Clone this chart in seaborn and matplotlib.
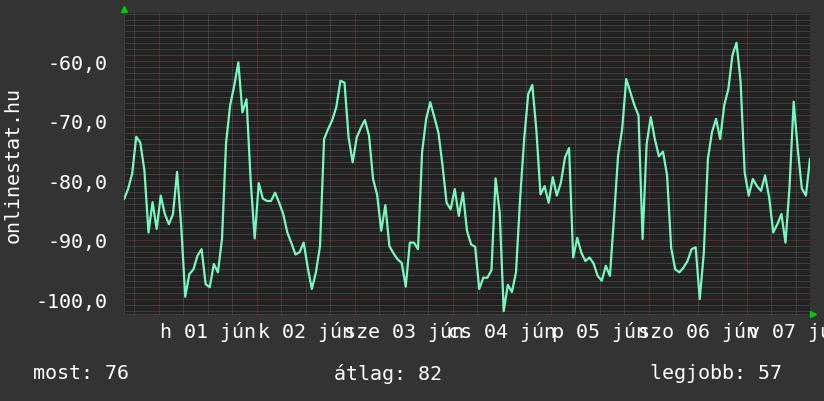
import numpy as np
import pandas as pd
import matplotlib
matplotlib.use("Agg")
import matplotlib.pyplot as plt
import matplotlib.dates as mdates
import seaborn as sns

# ---- data (hourly samples, starting 2015-05-31 15:30) ----
start_time = "2015-05-31 15:30"
block1 = [-83.2, -81.5, -78.9, -72.7, -73.7, -78.4, -88.8, -83.7, -88.2, -82.6, -85.7, -87.4,
          -85.7, -78.6, -87.6, -99.6, -95.8, -95.0, -92.7, -91.6, -97.5, -98.0, -94.1, -95.5]
block2 = [-89.9, -73.7, -67.4, -64.1, -60.2, -68.6, -66.4, -79.8, -89.8, -80.5, -83.1, -83.5,
          -83.5, -82.1, -83.8, -85.7, -88.8, -90.6, -92.5, -92.1, -90.5, -94.7, -98.3, -95.5]
block3 = [-91.1, -73.1, -71.4, -69.9, -67.7, -63.3, -63.6, -72.8, -77.0, -72.8, -71.2, -69.9,
          -72.5, -79.8, -82.5, -88.5, -84.2, -91.1, -92.3, -93.3, -93.9, -97.9, -90.5, -90.5]
block4 = [-91.6, -75.3, -69.7, -66.9, -69.4, -72.0, -77.5, -83.8, -84.9, -81.5, -86.0, -82.1,
          -88.5, -90.8, -91.2, -98.3, -96.4, -96.4, -95.1, -79.7, -85.4, -102.0, -97.6, -98.8]
block5 = [-95.5, -83.2, -73.1, -65.5, -64.0, -71.7, -82.4, -81.0, -83.8, -79.5, -82.6, -80.4,
          -76.2, -74.6, -93.0, -89.7, -92.2, -93.6, -93.0, -94.0, -96.1, -96.9, -94.4, -96.1]
block6 = [-86.3, -75.9, -71.4, -63.0, -65.2, -67.4, -69.1, -89.9, -73.9, -69.4, -73.1, -76.0,
          -75.2, -79.2, -91.4, -95.0, -95.5, -94.7, -93.6, -91.6, -91.3, -100.0, -92.2, -76.4]
block7 = [-71.9, -69.7, -73.1, -67.4, -64.7, -59.0, -56.9, -63.4, -78.7, -82.6, -79.8, -81.0,
          -81.8, -79.2, -82.9, -88.8, -87.4, -85.7, -90.5, -81.0, -66.8, -74.8, -81.4, -82.6,
          -76.4]

day_labels = ["h 01 jún", "k 02 jún", "sze 03 jún", "cs 04 jún", "p 05 jún", "szo 06 jún", "v 07 jún"]
label_days = ["2015-06-01", "2015-06-02", "2015-06-03", "2015-06-04", "2015-06-05", "2015-06-06", "2015-06-07"]
ytick_vals = [-100, -90, -80, -70, -60]
ytick_labels = ["-100,0", "-90,0", "-80,0", "-70,0", "-60,0"]
y_title = "onlinestat.hu"
summary = ["most: 76", "átlag: 82", "legjobb: 57"]

values = block1 + block2 + block3 + block4 + block5 + block6 + block7
times = pd.date_range(start_time, periods=len(values), freq="h")
df = pd.DataFrame({"time": times, "value": values})

# ---- style ----
BG = "#333333"
CANVAS = "#222222"
FG = "#ffffff"
MINOR = "#585858"
MAJOR = "#7f3838"
LINE = "#7af7be"

sns.set_theme(style="dark")
plt.rcParams["font.family"] = ["DejaVu Sans Mono", "DejaVu Sans"]
FS = 14.4

W, H = 824, 402
fig = plt.figure(figsize=(W / 100, H / 100), dpi=100, facecolor=BG)
ax = fig.add_axes([124 / W, 87 / H, 686 / W, 301 / H])
ax.set_facecolor(CANVAS)

t0 = times[0]
t1 = t0 + pd.Timedelta(hours=168)

# grid (drawn manually, dotted like rrdtool)
dot = (0, (1, 1))
for v in range(-102, -51):
    ax.axhline(v, color=MAJOR if v % 10 == 0 else MINOR, lw=0.72, ls=dot, zorder=1)
grid_times = pd.date_range("2015-05-31 18:00", t1, freq="6h")
for gt in grid_times:
    ax.axvline(mdates.date2num(gt), color=MAJOR if gt.hour == 0 else MINOR,
               lw=0.72, ls=dot, zorder=1)

sns.lineplot(data=df, x="time", y="value", color=LINE, linewidth=1.6, ax=ax, zorder=3)
ax.set_xlim(mdates.date2num(t0), mdates.date2num(t1))
ax.set_ylim(-102.5, -51.9)

# ticks
label_pos = [mdates.date2num(pd.Timestamp(d) + pd.Timedelta(hours=12)) for d in label_days]
ax.set_xticks(label_pos, labels=day_labels)
ax.set_xticks([mdates.date2num(g) for g in grid_times], minor=True)
ax.tick_params(axis="x", which="major", length=0, pad=5, labelsize=FS, colors=FG)
ax.tick_params(axis="x", which="minor", length=3, width=0.72, color=MINOR, direction="out")
ax.set_yticks(ytick_vals, labels=ytick_labels)
ax.tick_params(axis="y", which="major", length=0, pad=12, labelsize=FS, colors=FG)
ax.set_xlabel("")
ax.set_ylabel("")
ax.grid(False)

for s in ["top", "right"]:
    ax.spines[s].set_visible(False)
for s in ["left", "bottom"]:
    ax.spines[s].set_color("#3c3c3c")
    ax.spines[s].set_linewidth(0.72)

# arrows
ax.plot([0.0], [1.013], marker="^", color="#00d000", markersize=4, transform=ax.transAxes,
        clip_on=False, zorder=5)
ax.plot([1.005], [0.0], marker=">", color="#00d000", markersize=4, transform=ax.transAxes,
        clip_on=False, zorder=5)

# texts
fig.text(13 / W, 1 - 165 / H, y_title, rotation=90, ha="center", va="center",
         color=FG, fontsize=FS)
fig.text(33 / W, 1 - 374 / H, summary[0], ha="left", va="center", color=FG, fontsize=FS)
fig.text(334 / W, 1 - 374 / H, summary[1], ha="left", va="center", color=FG, fontsize=FS)
fig.text(650 / W, 1 - 374 / H, summary[2], ha="left", va="center", color=FG, fontsize=FS)

fig.savefig("out.png", dpi=100, facecolor=BG)
